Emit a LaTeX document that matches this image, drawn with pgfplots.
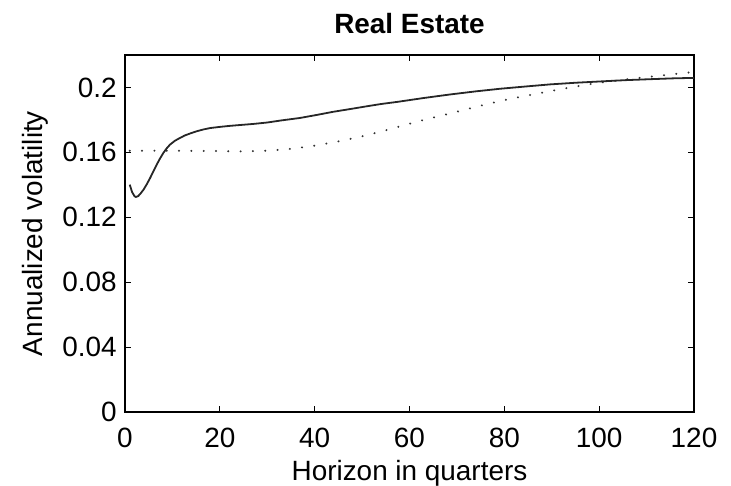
\documentclass[border=0pt]{standalone}
\usepackage{pgfplots}
\pgfplotsset{compat=1.18}
\usepackage{fontspec}
\setmainfont{Liberation Sans}

\newcommand{\lblfont}{\fontsize{14}{17}\selectfont}

\begin{document}
\begin{tikzpicture}
\begin{axis}[
  scale only axis,
  width=284.5bp, height=178.5bp,
  xmin=0, xmax=120, ymin=0, ymax=0.22,
  xtick={0,20,40,60,80,100,120},
  ytick={0,0.04,0.08,0.12,0.16,0.2},
  tick align=inside,
  major tick length=3bp,
  tick style={black, line width=0.5bp},
  axis line style={black, line width=0.7bp},
  every tick label/.append style={font=\lblfont},
  /pgf/number format/assume math mode=true,
  yticklabel style={/pgf/number format/fixed, /pgf/number format/precision=2, anchor=east, xshift=-4bp, inner sep=0pt},
  xticklabel style={anchor=base, yshift=-17.5bp, inner sep=0pt},
  xlabel={Horizon in quarters},
  ylabel={Annualized volatility},
  title={\bfseries Real Estate},
  every axis title shift=0pt,
  xlabel style={font=\lblfont, at={([yshift=-34bp]axis description cs:0.5,0)}, anchor=base, inner sep=0pt},
  ylabel style={font=\lblfont, at={([xshift=-41bp]axis description cs:0,0.5)}, anchor=base, inner sep=0pt},
  title style={font=\lblfont, at={([yshift=11bp]axis description cs:0.5,1)}, anchor=base, inner sep=0pt},
  clip=true,
]
% model-implied volatility (dotted)
\addplot[black!80, line width=1.1bp, line cap=round, dash pattern=on 0.01bp off 6.15bp] coordinates {
  (1,0.1610) (5,0.1610) (10,0.1610) (15,0.1609) (19.3,0.1608) (24.8,0.1606)
  (29.9,0.1610) (35.2,0.1622) (40.4,0.1643) (45.6,0.1671) (50.8,0.1704)
  (55.9,0.1743) (58.4,0.1764) (63,0.1800) (68.6,0.1840) (72.5,0.1869)
  (76.3,0.1897) (80,0.1922) (83.9,0.1945) (87.8,0.1967) (91.6,0.1988)
  (95.5,0.2008) (99.5,0.2027) (103.4,0.2042) (107.2,0.2055) (112,0.2070)
  (117.8,0.2089) (120,0.2095)
};
% estimated volatility (solid)
\addplot[black!85, line width=0.9bp, line join=round] coordinates {
  (1,0.1401) (1.5,0.1355) (2,0.1330) (2.3,0.1325) (2.8,0.1331) (3.3,0.1347)
  (3.9,0.1370) (4.6,0.1404) (5.3,0.1442) (6,0.1484) (6.7,0.1525) (7.4,0.1563)
  (8.1,0.1597) (8.8,0.1625) (9.5,0.1648) (10.5,0.1671) (11.6,0.1689)
  (12.6,0.1704) (13.7,0.1716) (15,0.1729) (16.5,0.1741) (18,0.1750)
  (20,0.1757) (22,0.1763) (23.6,0.1767) (27,0.1775) (30,0.1784) (33,0.1797)
  (36.9,0.1812) (40.5,0.1831) (43.9,0.1850) (47.5,0.1867) (51,0.1884)
  (54,0.1898) (57.4,0.1911) (63,0.1935) (68.6,0.1957) (74,0.1976)
  (79.1,0.1992) (84.5,0.2006) (89.7,0.2019) (95,0.2029) (100.2,0.2037)
  (105.5,0.2045) (110.8,0.2051) (115.5,0.2056) (120,0.2059)
};
\end{axis}
\pgfresetboundingbox
\path (-62.5bp,-37bp) rectangle (303bp,206bp);
\end{tikzpicture}
\end{document}
